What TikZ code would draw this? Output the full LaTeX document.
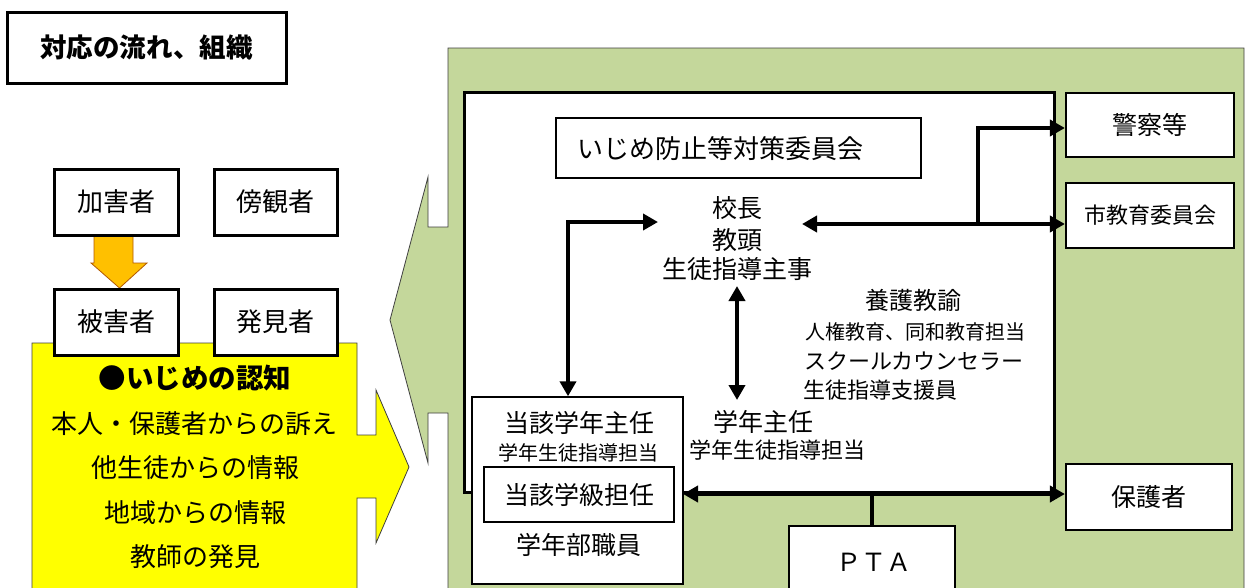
\documentclass[tikz,border=0pt]{standalone}
\usepackage{fontspec}
\setmainfont{Noto Sans CJK JP}
\usetikzlibrary{arrows.meta,calc}
\definecolor{grn}{HTML}{C4D79B}
\definecolor{ylw}{HTML}{FFFF00}
\definecolor{org}{HTML}{FFC000}
\newcommand\fsz[1]{\fontsize{#1}{#1}\selectfont}
\begin{document}
\begin{tikzpicture}[x=1pt,y=-1pt,
  box/.style={draw=black, fill=white, line width=3pt, inner sep=0pt},
  midbox/.style={draw=black, fill=white, line width=2.2pt, inner sep=0pt},
  thinbox/.style={draw=black, fill=white, line width=1.4pt, inner sep=0pt},
  lbl/.style={inner sep=0pt},
  conn/.style={line width=4.8pt},
  arr/.style={conn, -{Triangle[length=15pt,width=16pt]}},
  darr/.style={conn, {Triangle[length=15pt,width=16pt]}-{Triangle[length=15pt,width=16pt]}},
  shape outline/.style={draw=black!75, line width=0.8pt}
]
\useasboundingbox (0,0) rectangle (1246,587);
\fill[white] (0,0) rectangle (1246,587);

% title
\node[box, minimum width=279, minimum height=71] (title) at (146.5,47.5) {\fsz{26.5}\bfseries 対応の流れ、組織};

% green callout
\path[shape outline, fill=grn] (448,48) -- (1244,48) -- (1244,600) -- (448,600) -- (448,413) -- (428,413) -- (428,463) -- (390,320) -- (428,177) -- (428,227) -- (448,227) -- cycle;

% yellow callout
\path[shape outline, fill=ylw] (32,343) -- (357,343) -- (357,435) -- (376,435) -- (376,390) -- (409,467) -- (376,543) -- (376,498) -- (357,498) -- (357,600) -- (32,600) -- cycle;

% orange arrow
\path[draw=orange!70!black, line width=0.8pt, fill=org] (94,234) -- (133,234) -- (133,263) -- (147,263) -- (119.5,288) -- (91,263) -- (94,263) -- cycle;

% left boxes
\node[box, minimum width=124, minimum height=66] (kagai) at (116,202) {\fsz{26}加害者};
\node[box, minimum width=123, minimum height=66] (bokan) at (275.5,202) {\fsz{26}傍観者};
\node[box, minimum width=124, minimum height=66] (higai) at (116,322) {\fsz{26}被害者};
\node[box, minimum width=123, minimum height=66] (hakken) at (275.5,322) {\fsz{26}発見者};

% yellow texts
\node[lbl] (ninchi) at (195,378) {\fsz{27.5}\bfseries ●いじめの認知};
\node[lbl] (y1) at (194,424) {\fsz{26}本人・保護者からの訴え};
\node[lbl] (y2) at (195,468) {\fsz{26}他生徒からの情報};
\node[lbl] (y3) at (195,513) {\fsz{26}地域からの情報};
\node[lbl] (y4) at (195,557) {\fsz{26}教師の発見};

% school box
\node[draw=black, fill=white, line width=3pt, inner sep=0pt, minimum width=590, minimum height=400] (school) at (759,292) {};

% committee
\node[thinbox, minimum width=365, minimum height=60] (iinkai) at (738.5,148) {};
\node[lbl] (iinkaitxt) at (720,149) {\fsz{26}いじめ防止等対策委員会};

% central texts
\node[lbl] (kocho) at (737,208) {\fsz{25}校長};
\node[lbl] (kyoto) at (737,240) {\fsz{25}教頭};
\node[lbl] (shuji) at (737,269) {\fsz{25}生徒指導主事};
\node[lbl] (yogo) at (913,300) {\fsz{24}養護教諭};
\node[lbl, anchor=west] (jinken) at (805,332) {\fsz{20}人権教育、同和教育担当};
\node[lbl, anchor=west] (sc) at (804,361) {\fsz{22}スクールカウンセラー};
\node[lbl, anchor=west] (shien) at (803,390) {\fsz{22}生徒指導支援員};
\node[lbl] (gakunen) at (763,422) {\fsz{25}学年主任};
\node[lbl] (gakunen2) at (777,450) {\fsz{22}学年生徒指導担当};

% toga box
\node[thinbox, minimum width=211, minimum height=187] (toga) at (577.5,490.5) {};
\node[lbl] (toga1) at (579,423) {\fsz{25}当該学年主任};
\node[lbl] (toga2) at (578,453) {\fsz{20}学年生徒指導担当};
\node[thinbox, minimum width=190, minimum height=55] (kyu) at (579,494.5) {\fsz{25}当該学級担任};
\node[lbl] (bushoku) at (579,545) {\fsz{25}学年部職員};

% right boxes
\node[midbox, minimum width=168, minimum height=64] (keisatsu) at (1150,125) {\fsz{25}警察等};
\node[midbox, minimum width=168, minimum height=65] (shikyo) at (1150,215.5) {\fsz{22}市教育委員会};
\node[midbox, minimum width=166, minimum height=66] (hogosha) at (1149,497) {\fsz{25}保護者};
\node[midbox, minimum width=166, minimum height=80] (pta) at (872,566) {};
\node[lbl] (ptatxt) at (874,562) {\fsz{25}ＰＴＡ};

% connectors
\coordinate (kl) at (802,224);
\coordinate (br) at (978,224);
\coordinate (ll) at (658,222);
\coordinate (ltop) at (568,222);
\coordinate (vt) at (737,286);
\coordinate (vb) at (737,400);
\coordinate (bl) at (683,494);

\draw[darr] (kl) -- (kl -| shikyo.west);
\draw[arr] (br) |- (keisatsu.west |- 0,128);
\draw[darr] (toga.north -| ltop) -- (ltop) -- (ll);
\draw[darr] (vt) -- (vb);
\draw[darr] (bl) -- (bl -| hogosha.west);
\draw[conn] (pta.north) -- (pta.north |- bl);
\end{tikzpicture}
\end{document}
